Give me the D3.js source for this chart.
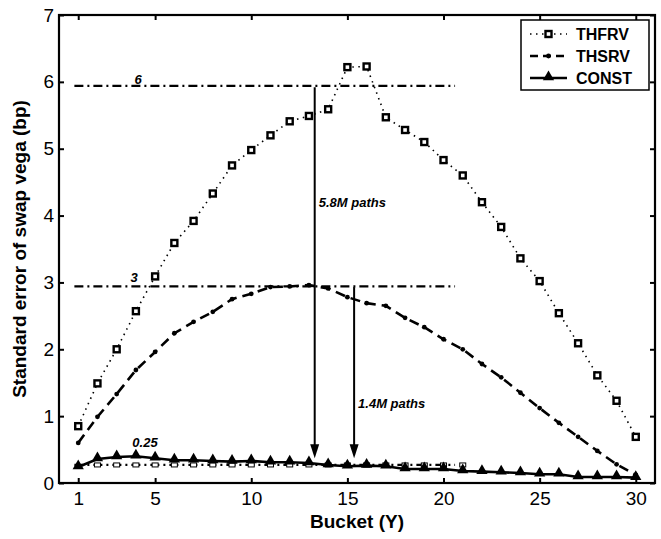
<!DOCTYPE html>
<html>
<head>
<meta charset="utf-8">
<script src="https://cdn.jsdelivr.net/npm/d3@7/dist/d3.min.js"></script>
<style>
  html, body { margin: 0; padding: 0; background: #fff; }
  svg { display: block; font-family: "Liberation Sans", Arial, Helvetica, sans-serif; }
</style>
</head>
<body>
<svg id="chart" width="661" height="539"></svg>
<script>
// Buckets (years) and standard error of swap vega (bp) per method
const buckets = d3.range(1, 31);
const thfrv = [0.85, 1.49, 2.0, 2.57, 3.09, 3.59, 3.92, 4.33, 4.75, 4.98,
               5.2, 5.41, 5.49, 5.59, 6.22, 6.23, 5.47, 5.28, 5.1, 4.83,
               4.6, 4.2, 3.83, 3.36, 3.02, 2.54, 2.09, 1.61, 1.23, 0.69];
const thsrv = [0.6, 0.99, 1.33, 1.69, 1.96, 2.24, 2.41, 2.56, 2.75, 2.83,
               2.93, 2.94, 2.96, 2.91, 2.78, 2.69, 2.65, 2.47, 2.33, 2.15,
               2.0, 1.78, 1.58, 1.35, 1.12, 0.9, 0.69, 0.48, 0.28, 0.12];
const constSe = [0.24, 0.36, 0.39, 0.4, 0.37, 0.34, 0.34, 0.33, 0.32, 0.33,
                 0.31, 0.31, 0.3, 0.27, 0.25, 0.26, 0.25, 0.21, 0.21, 0.21,
                 0.18, 0.17, 0.16, 0.15, 0.13, 0.13, 0.09, 0.09, 0.09, 0.08];
const seriesNames = ["THFRV", "THSRV", "CONST"];

// Target error levels (dash-dot reference lines)
const levelLabels = ["6", "3", "0.25"];
const levelValues = [5.94, 2.94, 0.27];
const levelStart = 0.8, levelEnd = 20.6;
const levelMarkerBuckets = d3.range(2, 22);

// Path-count annotations: bucket, top value, tip value
const arrowLabels = ["5.8M paths", "1.4M paths"];
const arrowBuckets = [13.3, 15.35];
const arrowTops = [5.92, 2.93];
const arrowTips = [0.37, 0.37];
const arrowLabelValues = [4.2, 1.2];

const xTicks = [1, 5, 10, 15, 20, 25, 30];
const yTicks = [0, 1, 2, 3, 4, 5, 6, 7];

const svg = d3.select("#chart");
const plotLeft = 59, plotRight = 655, plotTop = 15, plotBottom = 483;
const x = d3.scaleLinear().domain([0, 31]).range([plotLeft, plotRight]);
const y = d3.scaleLinear().domain([0, 7]).range([plotBottom, plotTop]);

// Axes with inward ticks on all four sides
const ax = svg.append("g");
ax.append("g").attr("transform", `translate(0,${plotBottom})`)
  .call(d3.axisBottom(x).tickValues(xTicks).tickSize(-5).tickSizeOuter(0).tickPadding(9)
    .tickFormat(d3.format("d")));
ax.append("g").attr("transform", `translate(0,${plotTop})`)
  .call(d3.axisTop(x).tickValues(xTicks).tickSize(-5).tickSizeOuter(0).tickFormat(""));
ax.append("g").attr("transform", `translate(${plotLeft},0)`)
  .call(d3.axisLeft(y).tickValues(yTicks).tickSize(-5).tickSizeOuter(0).tickPadding(5)
    .tickFormat(d3.format("d")));
ax.append("g").attr("transform", `translate(${plotRight},0)`)
  .call(d3.axisRight(y).tickValues(yTicks).tickSize(-5).tickSizeOuter(0).tickFormat(""));
ax.selectAll("g").attr("font-size", 19).attr("font-family", "Liberation Sans, Arial, sans-serif");
ax.selectAll("text").attr("fill", "#000");
ax.selectAll(".tick line").attr("stroke", "#000").attr("stroke-width", 2);
ax.selectAll(".domain").remove();

svg.append("rect")
  .attr("x", plotLeft).attr("y", plotTop)
  .attr("width", plotRight - plotLeft).attr("height", plotBottom - plotTop)
  .attr("fill", "none").attr("stroke", "#000").attr("stroke-width", 2.2);

// Axis titles
svg.append("text")
  .attr("x", (plotLeft + plotRight) / 2).attr("y", 528)
  .attr("text-anchor", "middle").attr("font-size", 19).attr("font-weight", "bold")
  .text("Bucket (Y)");
svg.append("text")
  .attr("transform", `translate(26,${(plotTop + plotBottom) / 2}) rotate(-90)`)
  .attr("text-anchor", "middle").attr("font-size", 19).attr("font-weight", "bold")
  .text("Standard error of swap vega (bp)");

const dashDot = "9,4,2,4";

// Reference error levels
levelValues.forEach((v) => {
  svg.append("line")
    .attr("x1", x(levelStart)).attr("x2", x(levelEnd))
    .attr("y1", y(v)).attr("y2", y(v))
    .attr("stroke", "#000").attr("stroke-width", 2.2)
    .attr("stroke-dasharray", dashDot);
});
svg.selectAll("rect.lvl").data(levelMarkerBuckets).join("rect")
  .attr("class", "lvl")
  .attr("x", d => x(d) - 3).attr("y", y(levelValues[2]) - 2)
  .attr("width", 6).attr("height", 4)
  .attr("fill", "#fff").attr("stroke", "#000").attr("stroke-width", 1);

const levelLabelX = [138, 134, 145];
const levelLabelY = [84, 282, 447];
levelLabels.forEach((t, i) => {
  svg.append("text")
    .attr("x", levelLabelX[i]).attr("y", levelLabelY[i])
    .attr("text-anchor", "middle")
    .attr("font-size", 13).attr("font-weight", "bold").attr("font-style", "italic")
    .text(t);
});

// Series lines
const line = d3.line().x((d, i) => x(buckets[i])).y(d => y(d));

svg.append("path").datum(thfrv).attr("d", line)
  .attr("fill", "none").attr("stroke", "#000").attr("stroke-width", 1.6)
  .attr("stroke-dasharray", "1.5,4.5");
svg.append("path").datum(thsrv).attr("d", line)
  .attr("fill", "none").attr("stroke", "#000").attr("stroke-width", 2.6)
  .attr("stroke-dasharray", "10,6");
svg.append("path").datum(constSe).attr("d", line)
  .attr("fill", "none").attr("stroke", "#000").attr("stroke-width", 2.6);

// Markers
const tri = d3.symbol().type(d3.symbolTriangle).size(55);
function squareMarker(g, cx, cy) {
  g.append("rect").attr("x", cx - 3).attr("y", cy - 3)
    .attr("width", 6).attr("height", 6)
    .attr("fill", "#fff").attr("stroke", "#000").attr("stroke-width", 2.4);
}
function dotMarker(g, cx, cy) {
  g.append("circle").attr("cx", cx).attr("cy", cy).attr("r", 2.4).attr("fill", "#000");
}
function triMarker(g, cx, cy) {
  g.append("path").attr("d", tri()).attr("transform", `translate(${cx},${cy - 1})`).attr("fill", "#000");
}
const mk = svg.append("g");
thfrv.forEach((v, i) => squareMarker(mk, x(buckets[i]), y(v)));
thsrv.forEach((v, i) => dotMarker(mk, x(buckets[i]), y(v)));
constSe.forEach((v, i) => triMarker(mk, x(buckets[i]), y(v)));

// Arrows
arrowBuckets.forEach((b, i) => {
  const ax0 = x(b), yTop = y(arrowTops[i]), yTip = y(arrowTips[i]);
  svg.append("line").attr("x1", ax0).attr("x2", ax0)
    .attr("y1", yTop).attr("y2", yTip - 10)
    .attr("stroke", "#000").attr("stroke-width", 2);
  svg.append("path")
    .attr("d", `M${ax0 - 4.5},${yTip - 14} L${ax0 + 4.5},${yTip - 14} L${ax0},${yTip} Z`)
    .attr("fill", "#000");
  svg.append("text")
    .attr("x", ax0 + 4).attr("y", y(arrowLabelValues[i]) + 5)
    .attr("font-size", 13).attr("font-weight", "bold").attr("font-style", "italic")
    .text(arrowLabels[i]);
});

// Legend
const lg = svg.append("g");
lg.append("rect").attr("x", 521).attr("y", 20).attr("width", 128).attr("height", 70)
  .attr("fill", "#fff").attr("stroke", "#000").attr("stroke-width", 1.5);
const legendY = [34, 56, 78];
const legendStyles = [
  { w: 1.6, dash: "1.5,4.5", marker: squareMarker },
  { w: 2.6, dash: "8,5", marker: dotMarker },
  { w: 2.6, dash: null, marker: triMarker }
];
seriesNames.forEach((n, i) => {
  const st = legendStyles[i];
  lg.append("line").attr("x1", 530).attr("x2", 567)
    .attr("y1", legendY[i]).attr("y2", legendY[i])
    .attr("stroke", "#000").attr("stroke-width", st.w)
    .attr("stroke-dasharray", st.dash);
  st.marker(lg, 548.5, legendY[i]);
  lg.append("text").attr("x", 576).attr("y", legendY[i] + 6)
    .attr("font-size", 16).attr("font-weight", "bold").text(n);
});
</script>
</body>
</html>
